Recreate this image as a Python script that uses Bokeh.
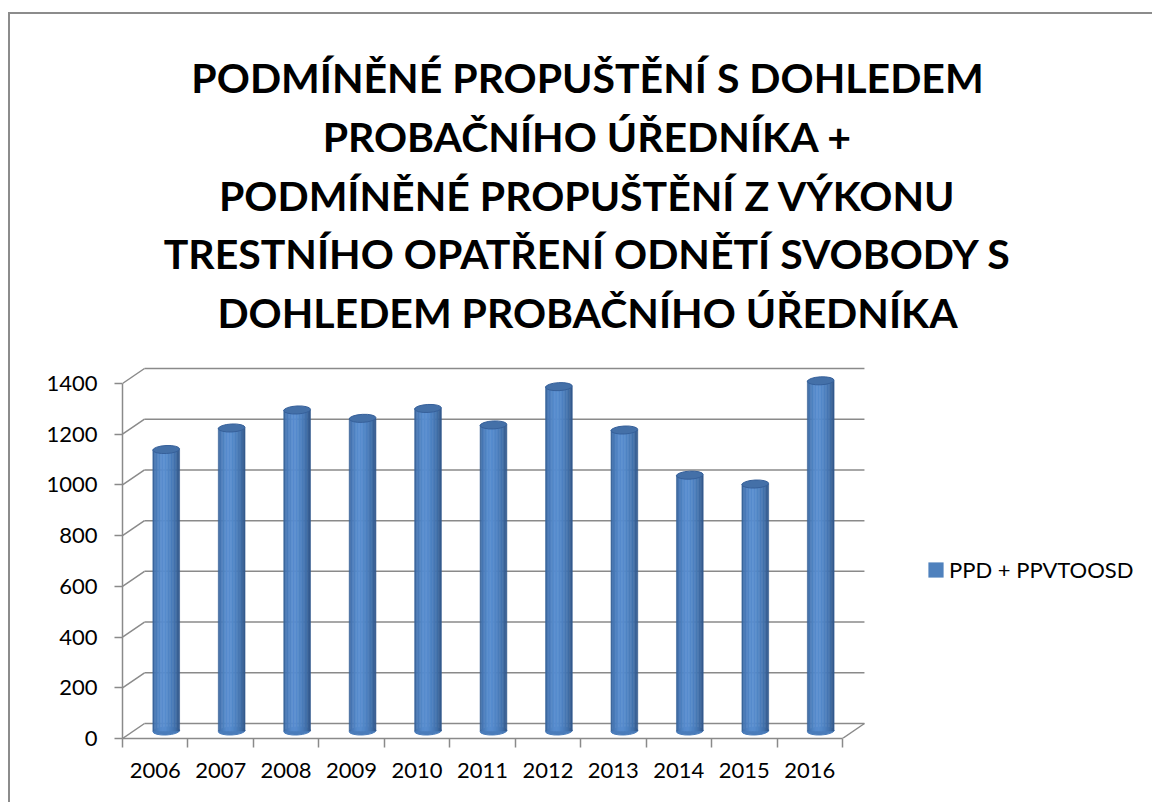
import numpy as np
from bokeh.plotting import figure
from bokeh.layouts import column
from bokeh.models import Range1d, FixedTicker, Legend, LegendItem, Label
from bokeh.embed import file_html
from bokeh.resources import INLINE

# ---------------- data ----------------
years = ["2006", "2007", "2008", "2009", "2010", "2011", "2012", "2013", "2014", "2015", "2016"]
counts = [1110, 1195, 1266, 1233, 1272, 1207, 1358, 1187, 1009, 974, 1381]
y_ticks = [0, 200, 400, 600, 800, 1000, 1200, 1400]
series_name = "PPD + PPVTOOSD"
title_lines = [
    "PODMÍNĚNÉ PROPUŠTĚNÍ S DOHLEDEM",
    "PROBAČNÍHO ÚŘEDNÍKA +",
    "PODMÍNĚNÉ PROPUŠTĚNÍ Z VÝKONU",
    "TRESTNÍHO OPATŘENÍ ODNĚTÍ SVOBODY S",
    "DOHLEDEM PROBAČNÍHO ÚŘEDNÍKA",
]

# ---------------- geometry (page pixels) ----------------
OX, OY = 10, 14          # page position of the figure (inside the bordered box)
W, H = 1152 - OX, 802 - OY
FRONT_X0 = 122.0         # page x of front vertical axis
FRONT_Y0 = 738.0         # page y of front zero line
PX_PER_CAT = 65.45
PX_PER_UNIT = 355.0 / 1400.0
DEPTH_X, DEPTH_Y = 22.0, 15.0
YMAX = y_ticks[-1]
ncat = len(years)

ddx = DEPTH_X / PX_PER_CAT
ddy = DEPTH_Y / PX_PER_UNIT

frame_left = int(round(FRONT_X0 - OX))
frame_bottom_border = int(round(H - (FRONT_Y0 - OY)))
frame_w = W - frame_left
frame_h = H - frame_bottom_border
x_end = frame_w / PX_PER_CAT
y_end = frame_h / PX_PER_UNIT


def px_x(px):
    return (px - FRONT_X0) / PX_PER_CAT


def px_y(py):
    return (FRONT_Y0 - py) / PX_PER_UNIT


GRID = "#8a8a8a"
FONT = "Lato"

p = figure(width=W, height=H, x_range=Range1d(0, x_end), y_range=Range1d(0, y_end),
           output_backend="svg", toolbar_location=None,
           min_border_left=frame_left, min_border_right=0,
           min_border_top=0, min_border_bottom=frame_bottom_border)
p.outline_line_color = None
p.background_fill_color = "white"
p.border_fill_color = "white"
p.xgrid.visible = False
p.ygrid.visible = False

# ---------------- axes ----------------
xt = [i + 0.5 for i in range(ncat)]
p.xaxis.ticker = FixedTicker(ticks=xt, minor_ticks=list(range(ncat + 1)))
p.xaxis.major_label_overrides = {t: y for t, y in zip(xt, years)}
p.xaxis.bounds = (0, ncat)
p.xaxis.major_tick_line_color = None
p.xaxis.minor_tick_line_color = GRID
p.xaxis.minor_tick_line_width = 1.5
p.xaxis.minor_tick_out = 9
p.xaxis.minor_tick_in = 0
p.xaxis.major_label_standoff = 15
p.xaxis.axis_line_color = GRID
p.xaxis.axis_line_width = 1.5
p.xaxis.major_label_text_font = FONT
p.xaxis.major_label_text_font_size = "22px"
p.xaxis.major_label_text_color = "black"

p.yaxis.ticker = FixedTicker(ticks=y_ticks, minor_ticks=[])
p.yaxis.bounds = (0, YMAX)
p.yaxis.major_tick_line_color = GRID
p.yaxis.major_tick_line_width = 1.5
p.yaxis.major_tick_out = 8
p.yaxis.major_tick_in = 0
p.yaxis.minor_tick_line_color = None
p.yaxis.major_label_standoff = 17
p.yaxis.axis_line_color = GRID
p.yaxis.axis_line_width = 1.5
p.yaxis.major_label_text_font = FONT
p.yaxis.major_label_text_font_size = "22px"
p.yaxis.major_label_text_color = "black"

# ---------------- 3D walls / gridlines ----------------
back_y = [t + ddy for t in y_ticks]
p.segment(x0=[ddx] * len(y_ticks), y0=back_y, x1=[ncat + ddx] * len(y_ticks), y1=back_y,
          line_color=GRID, line_width=1.5)
p.segment(x0=[0] * len(y_ticks), y0=y_ticks, x1=[ddx] * len(y_ticks), y1=back_y,
          line_color=GRID, line_width=1.5)
p.segment(x0=[ncat], y0=[0], x1=[ncat + ddx], y1=[ddy], line_color=GRID, line_width=1.5)

# ---------------- cylinders ----------------
CYL_W_PX = 26.7
cyl_w = CYL_W_PX / PX_PER_CAT
cx = np.array([i + 0.5 + ddx / 2 for i in range(ncat)])
base = ddy / 2
tops = np.array(counts, dtype=float) + base

stops_t = [0.0, 0.08, 0.3, 0.45, 0.65, 0.85, 1.0]
stops_c = [(0x35, 0x5d, 0x90), (0x46, 0x76, 0xb2), (0x56, 0x8b, 0xcd), (0x59, 0x8e, 0xd0),
           (0x4e, 0x82, 0xc2), (0x42, 0x70, 0xaa), (0x31, 0x57, 0x88)]


def shade(t):
    r = np.interp(t, stops_t, [c[0] for c in stops_c])
    g = np.interp(t, stops_t, [c[1] for c in stops_c])
    b = np.interp(t, stops_t, [c[2] for c in stops_c])
    return "#%02x%02x%02x" % (int(r), int(g), int(b))


NS = 18
sw = cyl_w / NS
offs = [(-cyl_w / 2 + sw * (k + 0.5)) for k in range(NS)]
cols = [shade((k + 0.5) / NS) for k in range(NS)]

p.ellipse(x=cx, y=[base] * ncat, width=CYL_W_PX, height=8, width_units="screen",
          height_units="screen", angle=0.05, fill_color="#4a7cba", line_color="#4a7cba")

sx, stop, sc = [], [], []
for i in range(ncat):
    for k in range(NS):
        sx.append(cx[i] + offs[k])
        stop.append(tops[i])
        sc.append(cols[k])
p.vbar(x=sx, width=sw, bottom=base, top=stop, fill_color=sc, line_color=sc, line_width=0.6)

p.ellipse(x=cx, y=tops, width=CYL_W_PX, height=8, width_units="screen",
          height_units="screen", angle=0.05, fill_color="#4470a8", line_color="#36609a", line_width=1)

# ---------------- legend ----------------
# legend-only proxy renderer (one NaN row so that it draws nothing on the plot)
proxy = p.quad(left=[np.nan], right=[np.nan], top=[np.nan], bottom=[np.nan],
               fill_color="#4f81bd", line_color=None)
legend = Legend(items=[LegendItem(label=series_name, renderers=[proxy])],
                location=(int(926 - FRONT_X0), int(FRONT_Y0 - 583)))
legend.glyph_width = 19
legend.glyph_height = 19
legend.padding = 0
legend.margin = 0
legend.spacing = 0
legend.label_standoff = 4
legend.label_text_font = FONT
legend.label_text_font_size = "22px"
legend.label_text_color = "black"
legend.border_line_color = None
legend.background_fill_alpha = 0
p.add_layout(legend, "center")

# ---------------- title ----------------
baselines = [77, 136, 195, 253, 312]
for line, bl in zip(title_lines, baselines):
    p.add_layout(Label(x=px_x(587), y=px_y(bl), text=line, text_align="center",
                       text_baseline="alphabetic", text_font=FONT,
                       text_font_style="bold", text_font_size="41px", text_color="black"))

layout = column(p, margin=(12, 0, 0, 8),
                styles={"border-top": "2px solid #8c8c8c", "border-left": "2px solid #8c8c8c"})

open("out.html", "w").write(file_html(layout, INLINE))
